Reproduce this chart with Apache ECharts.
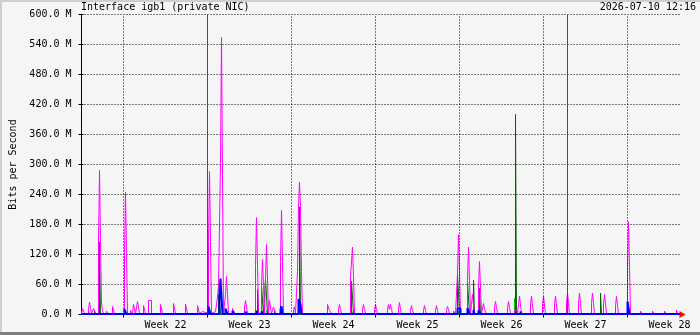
<!DOCTYPE html>
<html>
<head>
<meta charset="utf-8">
<script src="https://cdn.jsdelivr.net/npm/echarts@6/dist/echarts.min.js"></script>
<style>
html,body{margin:0;padding:0;background:#f5f5f5;}
#wrap{position:relative;width:700px;height:335px;overflow:hidden;background:#f5f5f5;}
#chart{position:absolute;left:0;top:0;width:700px;height:335px;}
.b{position:absolute;pointer-events:none;}
</style>
</head>
<body>
<div id="wrap">
<div id="chart"></div>
<div class="b" style="left:0;top:0;width:700px;height:2px;background:#cfcfcf"></div>
<div class="b" style="left:0;top:0;width:2px;height:335px;background:#cfcfcf"></div>
<div class="b" style="left:0;top:332px;width:700px;height:3px;background:#7f7f7f"></div>
</div>
<script>
// Time axis unit: 2-hour samples (bin) since 2026-05-21 12:00; 600 bins = 50 days
const title = 'Interface igb1 (private NIC)';
const stamp = '2026-07-10 12:16';
const yTicks = [0, 60, 120, 180, 240, 300, 360, 420, 480, 540, 600]; // M bits/s
const weekLabelBins = [84, 168, 252, 336, 420, 504, 588];
const weekLabels = ['Week 22', 'Week 23', 'Week 24', 'Week 25', 'Week 26', 'Week 27', 'Week 28'];
const weekStartBins = [42, 126, 210, 294, 378, 462, 546];
const monthStartBins = [126, 486];

// [bin, value in M] — step data, value holds until next bin
const inAvg = [[0,1],[18,6],[19,1],[127,10],[128,1],[175,8],[176,1],[181,8],[182,1],[185,8],[186,1],[200,6],[201,1],[218,10],[219,1],[270,10],[271,1],[377,6],[378,1],[387,8],[388,1],[398,6],[399,1],[433,33],[435,1],[547,8],[548,1],[600,1]];

const maxIn = [[0,1],[7,6],[8,1],[13,8],[14,1],[18,145],[19,1],[137,40],[139,1],[176,50],[177,1],[180,57],[182,1],[184,71],[186,1],[193,9],[194,1],[218,215],[219,1],[270,66],[272,1],[376,81],[378,1],[386,65],[388,1],[392,69],[393,1],[398,53],[399,1],[434,400],[435,1],[519,43],[520,1],[600,1]];

const maxOut = [[0,2],[1,12],[3,2],[7,10],[8,25],[9,12],[10,2],[12,12],[14,2],[17,145],[18,288],[19,150],[20,23],[21,8],[22,2],[25,7],[26,2],[31,16],[33,2],[37,6],[38,2],[43,124],[44,245],[45,124],[46,2],[49,8],[51,2],[52,20],[54,2],[56,26],[58,2],[62,18],[64,2],[67,28],[70,2],[79,20],[81,2],[92,22],[94,2],[97,6],[98,2],[104,21],[106,2],[116,18],[118,2],[120,6],[121,2],[127,146],[128,286],[129,146],[130,2],[132,6],[134,2],[136,35],[137,57],[139,302],[140,554],[141,278],[142,2],[144,40],[145,76],[146,40],[147,2],[151,12],[153,2],[163,15],[164,28],[165,15],[166,2],[174,98],[175,194],[176,98],[177,2],[180,58],[181,110],[182,58],[183,2],[184,71],[185,140],[186,71],[187,2],[188,28],[189,15],[190,2],[192,15],[194,2],[199,106],[200,208],[201,106],[202,2],[203,5],[204,2],[212,10],[213,15],[214,2],[216,86],[217,215],[218,265],[219,215],[220,86],[221,2],[246,20],[248,8],[250,2],[257,10],[258,20],[259,10],[260,2],[269,76],[271,135],[272,76],[273,2],[276,6],[277,2],[281,10],[282,20],[283,10],[284,2],[288,6],[289,2],[293,10],[294,20],[295,10],[296,2],[299,6],[300,2],[306,10],[307,20],[308,10],[309,20],[310,10],[311,2],[317,10],[318,24],[319,10],[320,2],[329,8],[330,18],[331,8],[332,2],[342,8],[343,18],[344,8],[345,2],[354,8],[355,18],[356,8],[357,2],[365,8],[366,16],[367,10],[368,2],[372,7],[374,2],[376,81],[377,160],[378,88],[379,2],[386,68],[387,135],[388,68],[389,2],[390,20],[391,40],[393,2],[397,53],[398,106],[399,53],[400,2],[402,22],[403,10],[405,2],[413,14],[414,26],[415,14],[416,2],[426,14],[427,26],[428,14],[429,2],[433,8],[436,2],[437,19],[438,37],[439,19],[440,2],[449,19],[450,37],[451,19],[452,2],[461,19],[462,37],[463,19],[464,2],[473,19],[474,37],[475,19],[476,2],[485,22],[486,44],[487,22],[488,2],[497,22],[498,43],[499,22],[500,2],[510,22],[511,43],[512,22],[513,2],[522,21],[523,40],[524,21],[525,2],[534,18],[535,36],[536,18],[537,2],[542,6],[543,2],[546,95],[547,186],[548,95],[549,2],[559,7],[560,2],[571,7],[572,2],[583,7],[584,2],[595,9],[596,2],[600,2]];

const outAvg = [[0,1],[43,11],[45,1],[127,16],[129,1],[138,48],[139,72],[141,1],[144,12],[146,1],[151,7],[153,1],[164,6],[165,1],[175,7],[176,1],[180,6],[181,1],[199,10],[200,17],[201,1],[217,31],[219,20],[220,1],[270,5],[271,1],[376,12],[379,1],[386,13],[388,1],[392,9],[393,1],[397,8],[399,1],[439,6],[440,1],[546,26],[548,1],[600,1]];

const FONT = 'DejaVu Sans Mono';
const chart = echarts.init(document.getElementById('chart'), null, {renderer: 'canvas'});
const gridLineStyle = {color: '#000', width: 1, type: [1, 2]};

chart.setOption({
  animation: false,
  backgroundColor: 'transparent',
  title: [
    {text: title, left: 81, top: 2, padding: 0, textStyle: {fontFamily: FONT, fontSize: 10, fontWeight: 'normal', color: '#000'}},
    {text: stamp, right: 4, top: 2, padding: 0, textStyle: {fontFamily: FONT, fontSize: 10, fontWeight: 'normal', color: '#000'}}
  ],
  grid: {left: 81.5, top: 14.5, width: 600, height: 300, containLabel: false},
  xAxis: [
    {type: 'value', min: 0, max: 600, interval: 84, position: 'bottom',
     axisLine: {show: false},
     axisTick: {show: true, customValues: weekStartBins, length: 3, lineStyle: {color: '#000'}},
     axisLabel: {customValues: weekLabelBins, margin: 6, fontFamily: FONT, fontSize: 10, color: '#000',
       formatter: function (v) { const i = weekLabelBins.indexOf(v); return i >= 0 ? weekLabels[i] : ''; }},
     splitLine: {show: false}},
    {type: 'value', min: 0, max: 600, position: 'top',
     axisLine: {show: true, lineStyle: {color: '#000', width: 1}},
     axisTick: {show: false}, axisLabel: {show: false}, splitLine: {show: false}}
  ],
  yAxis: [
    {type: 'value', min: 0, max: 600, interval: 60, position: 'left',
     name: 'Bits per Second', nameLocation: 'middle', nameGap: 56, nameRotate: 90,
     nameTextStyle: {fontFamily: FONT, fontSize: 10, color: '#000'},
     axisLine: {show: true, lineStyle: {color: '#000', width: 1}},
     axisTick: {show: true, length: 3, lineStyle: {color: '#000'}},
     axisLabel: {margin: 10, fontFamily: FONT, fontSize: 10, color: '#000',
       formatter: function (v) { return v.toFixed(1) + ' M'; }},
     splitLine: {show: true, lineStyle: gridLineStyle}},
    {type: 'value', min: 0, max: 600, interval: 60, position: 'right',
     axisLine: {show: true, lineStyle: {color: '#000', width: 1}},
     axisTick: {show: true, length: 2, lineStyle: {color: '#000'}},
     axisLabel: {show: false}, splitLine: {show: false}}
  ],
  series: [
    {type: 'line', name: 'in', data: inAvg, step: 'end', symbol: 'none', z: 2,
     lineStyle: {color: '#00cc00', width: 1}, areaStyle: {color: '#00cc00', opacity: 1},
     markLine: {silent: true, symbol: ['none', 'none'], label: {show: false},
       lineStyle: gridLineStyle,
       data: weekStartBins.map(function (b) { return {xAxis: b}; })}},
    {type: 'line', name: 'max in', data: maxIn, step: 'end', symbol: 'none', z: 3,
     lineStyle: {color: '#006600', width: 1}},
    {type: 'line', name: 'max out', data: maxOut, step: 'end', symbol: 'none', z: 4,
     lineStyle: {color: '#ff00ff', width: 1}},
    {type: 'line', name: 'out', data: outAvg, step: 'end', symbol: 'none', z: 5,
     lineStyle: {color: '#0000ff', width: 2},
     markLine: {silent: true, symbol: ['none', 'none'], label: {show: false},
       lineStyle: {color: '#ff0000', width: 1, type: 'solid'},
       data: monthStartBins.map(function (b) { return {xAxis: b}; })}}
  ]
});

const end = chart.convertToPixel({xAxisIndex: 0, yAxisIndex: 0}, [600, 0]);
chart.setOption({
  graphic: [{type: 'polygon', x: end[0], y: end[1], z: 100,
    shape: {points: [[-2, -3.5], [-2, 3.5], [4, 0]]}, style: {fill: '#ff0000'}}]
});
</script>
</body>
</html>
